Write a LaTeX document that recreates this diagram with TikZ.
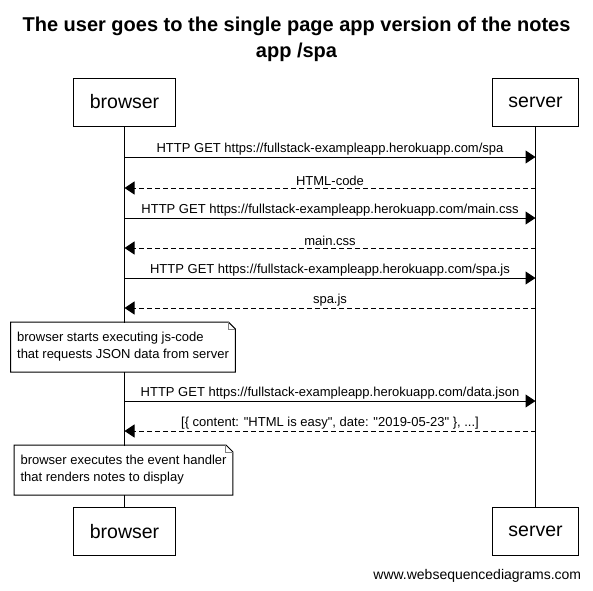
\documentclass[tikz,border=0pt]{standalone}
\usepackage{fontspec}
\setmainfont{Liberation Sans}
\usetikzlibrary{arrows.meta, positioning}

\begin{document}
\begin{tikzpicture}[
    x=1pt, y=-1pt,
    line width=1pt,
    actor/.style={rectangle, draw, minimum height=48pt, inner xsep=16pt, font=\fontsize{19.5}{23}\selectfont},
    note/.style={rectangle, fill=white, minimum height=49pt, inner xsep=6pt, align=left, font=\fontsize{13}{17}\selectfont},
    call/.style={-{Triangle[length=10pt, width=13pt]}},
    reply/.style={call, dash pattern=on 5pt off 3pt},
    label/.style={above, inner sep=1.5pt, font=\fontsize{13}{15}\selectfont}
]

\useasboundingbox (0,0) rectangle (593,590);

% Title
\node[align=center, font=\bfseries\fontsize{20}{26}\selectfont] (title) at (296.5, 39) {The user goes to the single page app version of the notes\\app /spa};

% Participants
\node[actor] (browser) at (124.5, 102) {browser};
\node[actor] (server) at (535.5, 102) {server};
\node[actor] (browserEnd) at (124.5, 531.5) {browser};
\node[actor] (serverEnd) at (535.5, 531.5) {server};

% Lifelines
\draw (browser) -- (browserEnd);
\draw (server) -- (serverEnd);

% Requests and responses
\draw[call] (browser |- 0,157) -- (server |- 0,157) node[label, midway] {HTTP GET https://fullstack-exampleapp.herokuapp.com/spa};
\draw[reply] (server |- 0,188) -- (browser |- 0,188) node[label, midway] {HTML-code};
\draw[call] (browser |- 0,218) -- (server |- 0,218) node[label, midway] {HTTP GET https://fullstack-exampleapp.herokuapp.com/main.css};
\draw[reply] (server |- 0,248) -- (browser |- 0,248) node[label, midway] {main.css};
\draw[call] (browser |- 0,278) -- (server |- 0,278) node[label, midway] {HTTP GET https://fullstack-exampleapp.herokuapp.com/spa.js};
\draw[reply] (server |- 0,308) -- (browser |- 0,308) node[label, midway] {spa.js};

% Note: js-code
\node[note] (note1) at (123, 347) {browser starts executing js-code\\that requests JSON data from server};
\draw (note1.north west) -- ([xshift=-7pt]note1.north east) -- ([yshift=-7pt]note1.north east) -- (note1.south east) -- (note1.south west) -- cycle;
\draw[gray] ([xshift=-7pt]note1.north east) -- ([xshift=-7pt, yshift=-7pt]note1.north east) -- ([yshift=-7pt]note1.north east);

% JSON data
\draw[call] (browser |- 0,401) -- (server |- 0,401) node[label, midway] {HTTP GET https://fullstack-exampleapp.herokuapp.com/data.json};
\draw[reply] (server |- 0,431) -- (browser |- 0,431) node[label, midway] {[\{ content: \textquotedbl HTML is easy\textquotedbl, date: \textquotedbl 2019-05-23\textquotedbl\ \}, ...]};

% Note: event handler
\node[note] (note2) at (123.5, 470) {browser executes the event handler\\that renders notes to display};
\draw (note2.north west) -- ([xshift=-7pt]note2.north east) -- ([yshift=-7pt]note2.north east) -- (note2.south east) -- (note2.south west) -- cycle;
\draw[gray] ([xshift=-7pt]note2.north east) -- ([xshift=-7pt, yshift=-7pt]note2.north east) -- ([yshift=-7pt]note2.north east);

% Credit
\node[anchor=east, font=\fontsize{14}{16}\selectfont] (credit) at (585, 576) {www.websequencediagrams.com};

\end{tikzpicture}
\end{document}
